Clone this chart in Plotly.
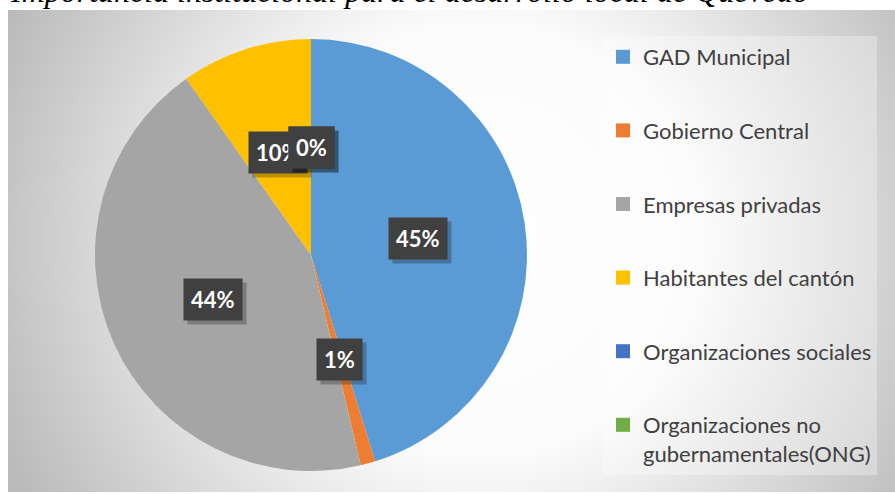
import math
import urllib.parse
import plotly.graph_objects as go

# ---- data ----
labels = ["GAD Municipal", "Gobierno Central", "Empresas privadas",
          "Habitantes del cantón", "Organizaciones sociales",
          "Organizaciones no<br>gubernamentales(ONG)"]
values = [45.2, 1.1, 43.9, 9.8, 0.0, 0.0]
colors = ["#5B9BD5", "#ED7D31", "#A5A5A5", "#FFC000", "#4472C4", "#70AD47"]
title_text = "Importancia institucional para el desarrollo local de Quevedo"

W, H = 895, 494
cx_px, cy_px, R_px = 311, 255, 216

fig = go.Figure()

# background radial gradient (chart area)
svg = ("<svg xmlns='http://www.w3.org/2000/svg' width='887' height='482' viewBox='0 0 887 482' preserveAspectRatio='none'>"
       "<defs><radialGradient id='g' gradientUnits='userSpaceOnUse' cx='470' cy='230' r='520'>"
       "<stop offset='0' stop-color='#ffffff'/><stop offset='0.42' stop-color='#fbfbfb'/>"
       "<stop offset='1' stop-color='#bababa'/></radialGradient></defs>"
       "<rect width='887' height='482' fill='url(#g)'/></svg>")
src = "data:image/svg+xml;charset=utf-8," + urllib.parse.quote(svg)

fig.add_trace(go.Pie(
    labels=[l.replace("<br>", " ") for l in labels], values=values,
    marker=dict(colors=colors, line=dict(width=0)),
    sort=False, direction="clockwise", rotation=0,
    textinfo="none", showlegend=False,
    domain=dict(x=[(cx_px - R_px) / W, (cx_px + R_px) / W],
                y=[1 - (cy_px + R_px) / H, 1 - (cy_px - R_px) / H]),
))

for lab, col in zip(labels, colors):
    fig.add_trace(go.Scatter(
        x=[None], y=[None], mode="markers", name=lab, legendgroup=lab,
        marker=dict(symbol="square", size=14, color=col), hoverinfo="skip"))

# data labels, positioned from the values
annotations = []
total = sum(values)
cum = 0.0
r_lab = 0.5 * R_px
for v in values:
    mid = (cum + v / 2) / total * 2 * math.pi
    cum += v
    dx = r_lab * math.sin(mid)
    dy = r_lab * math.cos(mid)
    txt = f"{round(100 * v / total)}%"
    base = dict(xref="paper", yref="paper", x=cx_px / W, y=1 - cy_px / H,
                showarrow=False, borderpad=7)
    annotations.append(dict(text=txt, xshift=dx + 4, yshift=dy - 4,
                            bgcolor="rgba(0,0,0,0.25)",
                            font=dict(family="Lato", size=22, color="rgba(0,0,0,0)", weight="bold"),
                            **base))
    annotations.append(dict(text=txt, xshift=dx, yshift=dy, bgcolor="#404040",
                            font=dict(family="Lato", size=22, color="white", weight="bold"),
                            **base))

annotations.append(dict(text=title_text, xref="paper", yref="paper", x=8 / W, y=1,
                        xanchor="left", yanchor="bottom", yshift=-11, showarrow=False,
                        font=dict(family="Liberation Serif", size=32, color="black", style="italic")))

fig.update_layout(
    width=W, height=H, margin=dict(l=0, r=0, t=0, b=0),
    paper_bgcolor="white", plot_bgcolor="rgba(0,0,0,0)",
    xaxis=dict(visible=False), yaxis=dict(visible=False),
    images=[dict(source=src, xref="paper", yref="paper", x=8 / W, y=1 - 10 / H,
                 sizex=887 / W, sizey=482 / H, xanchor="left", yanchor="top",
                 sizing="stretch", layer="below")],
    legend=dict(x=603 / W, y=1 - 36 / H, xanchor="left", yanchor="top",
                font=dict(family="Lato", size=22, color="#404040"),
                tracegroupgap=42, valign="top", bgcolor="rgba(255,255,255,0.3)"),
    annotations=annotations,
)

fig.write_html("out.html", config={"displayModeBar": False},
               post_script="document.body.style.margin='0';document.body.style.overflow='hidden';")
